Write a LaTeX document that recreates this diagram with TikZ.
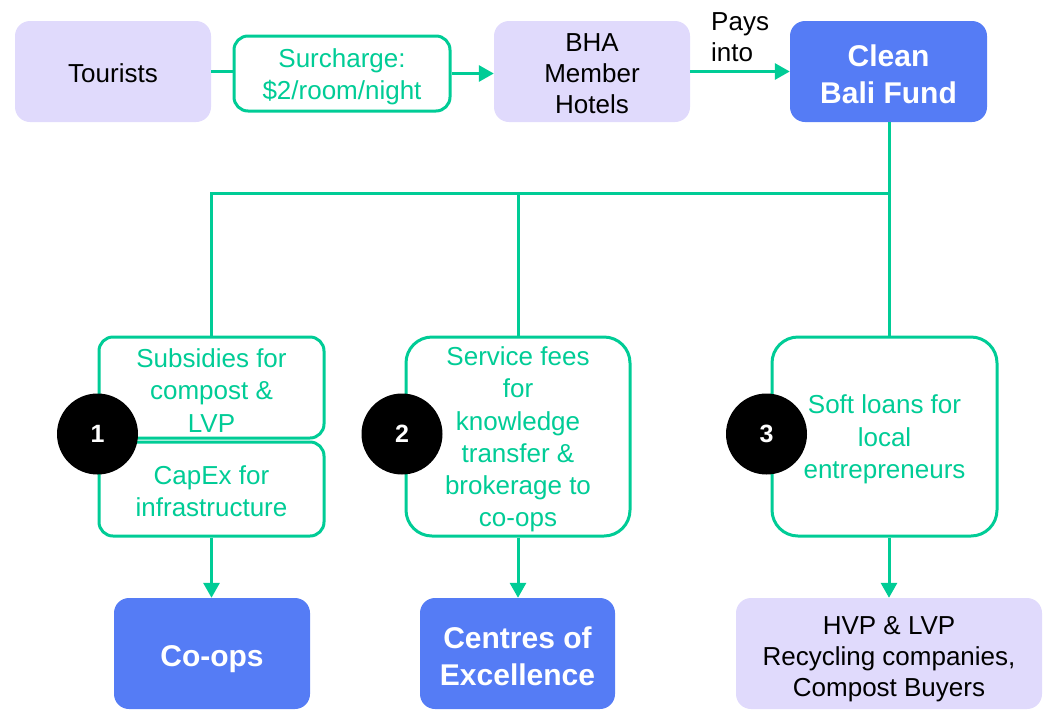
\documentclass[tikz,border=0pt]{standalone}
\usepackage{fontspec}
\setmainfont{Liberation Sans}
\usetikzlibrary{arrows.meta}
\definecolor{flowgreen}{RGB}{0,204,150}
\definecolor{fundblue}{RGB}{85,124,245}
\definecolor{lavender}{RGB}{224,218,252}
\begin{document}
\begin{tikzpicture}[x=1pt,y=-1pt,
  actor/.style={fill=lavender,rounded corners=15pt,inner sep=0pt},
  target/.style={fill=fundblue,rounded corners=15pt,inner sep=0pt},
  money/.style={draw=flowgreen,line width=3pt,fill=white,rounded corners=14pt,inner sep=0pt},
  actortext/.style={align=center,font=\fontsize{26}{31}\selectfont,text=black,inner sep=0pt},
  targettext/.style={align=center,font=\fontsize{30}{37}\selectfont\bfseries,text=white,inner sep=0pt},
  moneytext/.style={align=center,font=\fontsize{26}{32.3}\selectfont,text=flowgreen,inner sep=0pt},
  badge/.style={circle,fill=black,minimum size=81pt,inner sep=0pt,
    font=\fontsize{25}{30}\selectfont\bfseries,text=white},
  flow/.style={draw=flowgreen,line width=3pt},
  tip/.style={-{Triangle[length=15pt,width=16pt]}}
]
\useasboundingbox (0,0) rectangle (1043,710);

% top row
\node[actor,minimum width=196pt,minimum height=101pt] (tourists) at (113,71.5) {};
\node[actortext] (tourists-t) at ([yshift=-2pt]tourists.center) {Tourists};
\node[money,minimum width=216pt,minimum height=75pt] (surcharge) at (342,73.5) {};
\node[moneytext] (surcharge-t) at ([yshift=-3.5pt]surcharge.center) {Surcharge:\\\$2/room/night};
\node[actor,minimum width=196pt,minimum height=101pt] (bha) at (592,71.5) {};
\node[actortext] (bha-t) at ([yshift=-2pt]bha.center) {BHA\\Member\\Hotels};
\node[target,minimum width=197pt,minimum height=101pt] (fund) at (888.5,71.5) {};
\node[targettext] (fund-t) at ([yshift=-2.5pt]fund.center) {Clean\\Bali Fund};
\node[actortext,anchor=west,align=left] (pays) at (711,37) {Pays\\into};

% funding streams
\node[money,minimum width=225pt,minimum height=101pt] (s1a) at (211.5,387.5) {};
\node[moneytext] (s1a-t) at ([yshift=-3pt]s1a.center) {Subsidies for\\compost \&\\LVP};
\node[money,minimum width=225pt,minimum height=94pt] (s1b) at (211.5,489) {};
\node[moneytext] (s1b-t) at ([yshift=-2pt]s1b.center) {CapEx for\\infrastructure};
\node[money,minimum width=224pt,minimum height=199pt,rounded corners=26pt] (s2) at (518,436.5) {};
\node[moneytext] (s2-t) at ([yshift=-3pt]s2.center) {Service fees\\for\\knowledge\\transfer \&\\brokerage to\\co-ops};
\node[money,minimum width=225pt,minimum height=199pt,rounded corners=26pt] (s3) at (884.5,436.5) {};
\node[moneytext] (s3-t) at ([yshift=-3pt]s3.center) {Soft loans for\\local\\entrepreneurs};

% recipients
\node[target,minimum width=196pt,minimum height=111pt] (coops) at (212,653.5) {};
\node[targettext] (coops-t) at ([yshift=-6pt]coops.center) {Co-ops};
\node[target,minimum width=195pt,minimum height=111pt] (coe) at (517.5,653.5) {};
\node[targettext] (coe-t) at ([yshift=-2.5pt]coe.center) {Centres of\\Excellence};
\node[actor,minimum width=306pt,minimum height=111pt] (buyers) at (889,653.5) {};
\node[actortext] (buyers-t) at ([yshift=-6pt]buyers.center) {HVP \& LVP\\Recycling companies,\\Compost Buyers};

% connectors
\coordinate (bus) at (889,193);
\draw[flow] (tourists.east) -- (surcharge.west |- tourists.east);
\draw[flow,tip] (surcharge.east) -- (bha.west |- surcharge.east);
\draw[flow,tip] (bha.east) -- (fund.west);
\draw[flow] (fund.south -| bus) -- (bus |- s3.north);
\draw[flow] (s1a.north) |- (bus);
\draw[flow] (s2.north) -- (s2.north |- bus);
\draw[flow,tip] (s1b.south) -- (s1b.south |- coops.north);
\draw[flow,tip] (s2.south) -- (s2.south |- coe.north);
\draw[flow,tip] (bus |- s3.south) -- (buyers.north);

% step markers
\node[badge] (n1) at (97.5,434) {1};
\node[badge] (n2) at (402,434) {2};
\node[badge] (n3) at (766.5,434) {3};
\end{tikzpicture}
\end{document}
